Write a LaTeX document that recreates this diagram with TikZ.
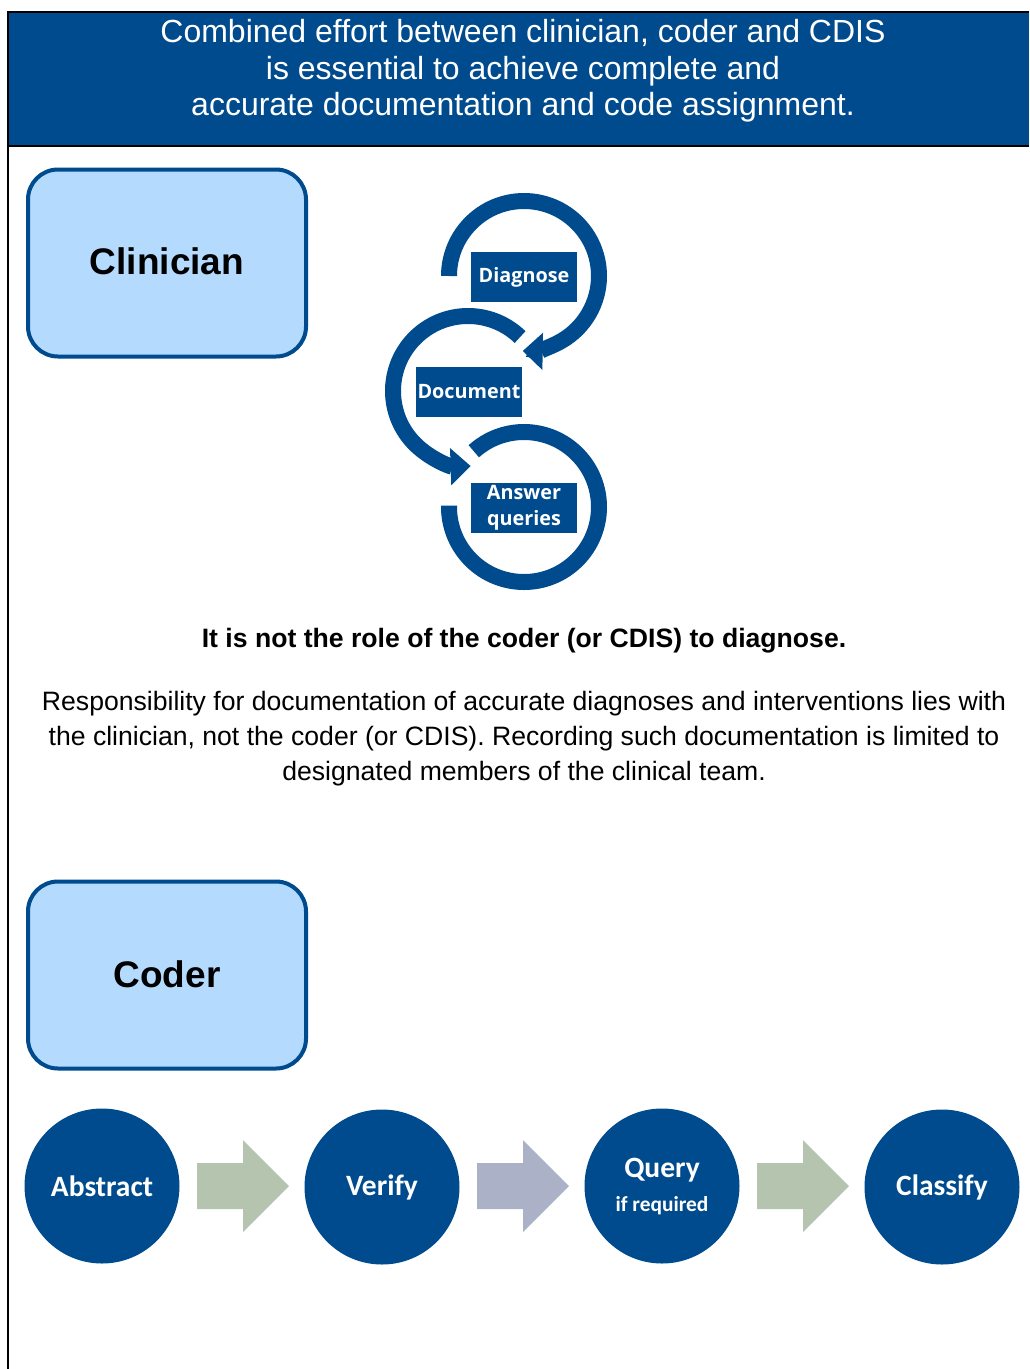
\documentclass[tikz,border=0pt]{standalone}
\usepackage{fontspec}
\setmainfont{Liberation Sans}
\newfontfamily\labelfont{Open Sans}
\newfontfamily\stepfont{Carlito}
\usetikzlibrary{arrows.meta}
\definecolor{navy}{RGB}{0,75,141}
\definecolor{paleblue}{RGB}{180,219,254}
\definecolor{sage}{RGB}{181,196,174}
\definecolor{slate}{RGB}{171,178,200}

\begin{document}
\begin{tikzpicture}[x=1pt,y=-1pt,
    rolebox/.style={draw=navy, line width=4pt, fill=paleblue, rounded corners=30pt,
        minimum width=278pt, minimum height=187pt,
        font=\fontsize{37}{40}\selectfont\bfseries},
    cycarc/.style={draw=navy, line width=16pt},
    cyclabel/.style={fill=navy, text=white, inner sep=0pt, align=center,
        minimum width=106pt, minimum height=50pt,
        font=\labelfont\fontsize{19.8}{25.5}\selectfont\bfseries},
    stepcircle/.style={circle, fill=navy, text=white, inner sep=0pt, align=center,
        minimum size=155pt, font=\stepfont\fontsize{29.5}{32}\selectfont\bfseries},
    body/.style={font=\fontsize{26.6}{35}\selectfont, align=center}]

    \useasboundingbox (0,0) rectangle (1029,1369);

    % header band and frame
    \fill[navy] (8,12) rectangle (1029,146);
    \draw[line width=2pt] (1029,12) -- (8,12) -- (8,1369);
    \draw[line width=2pt] (8,146) -- (1029,146);
    \node[text=white, align=center, font=\fontsize{32}{36.3}\selectfont] (title) at (523,71)
        {Combined effort between clinician, coder and CDIS\\
         is essential to achieve complete and\\
         accurate documentation and code assignment.};

    % clinician
    \node[rolebox] (clinician) at (167,263) {\raisebox{3pt}{Clinician}};

    \draw[cycarc, -{Triangle[width=36pt,length=20pt]}]
        (524,276) ++(180:75) arc[start angle=180, end angle=451, radius=75];
    \draw[cycarc, -{Triangle[width=36pt,length=20pt]}]
        (468,391) ++(314:75) arc[start angle=314, end angle=88, radius=75];
    \draw[cycarc]
        (524,507) ++(228:75) arc[start angle=228, end angle=541, radius=75];

    \node[cyclabel] (diagnose) at (524,277) {\raisebox{-2pt}{Diagnose}};
    \node[cyclabel] (document) at (469,392) {\raisebox{-1pt}{Document}};
    \node[cyclabel] (answer) at (524,508) {Answer\\queries};

    \node[body, font=\fontsize{26.6}{30}\selectfont\bfseries] (role) at (524,641)
        {It is not the role of the coder (or CDIS) to diagnose.};
    \node[body] (resp) at (524,739)
        {Responsibility for documentation of accurate diagnoses and interventions lies with\\
         the clinician, not the coder (or CDIS). Recording such documentation is limited to\\
         designated members of the clinical team.};

    % coder
    \node[rolebox] (coder) at (167,975) {\raisebox{2pt}{Coder}};

    \node[stepcircle] (abstract) at (102,1186) {Abstract};
    \node[stepcircle] (verify) at (382,1187) {Verify};
    \node[stepcircle] (query) at (662,1186)
        {Query\\[2pt]{\fontsize{21.4}{24}\selectfont if required}};
    \node[stepcircle] (classify) at (942,1187) {Classify};

    \foreach \x/\c in {197/sage, 477/slate, 757/sage}
        \fill[\c] (\x,1163) -- ++(46,0) -- ++(0,-23) -- ++(46,46) -- ++(-46,46)
            -- ++(0,-23) -- ++(-46,0) -- cycle;

\end{tikzpicture}
\end{document}
